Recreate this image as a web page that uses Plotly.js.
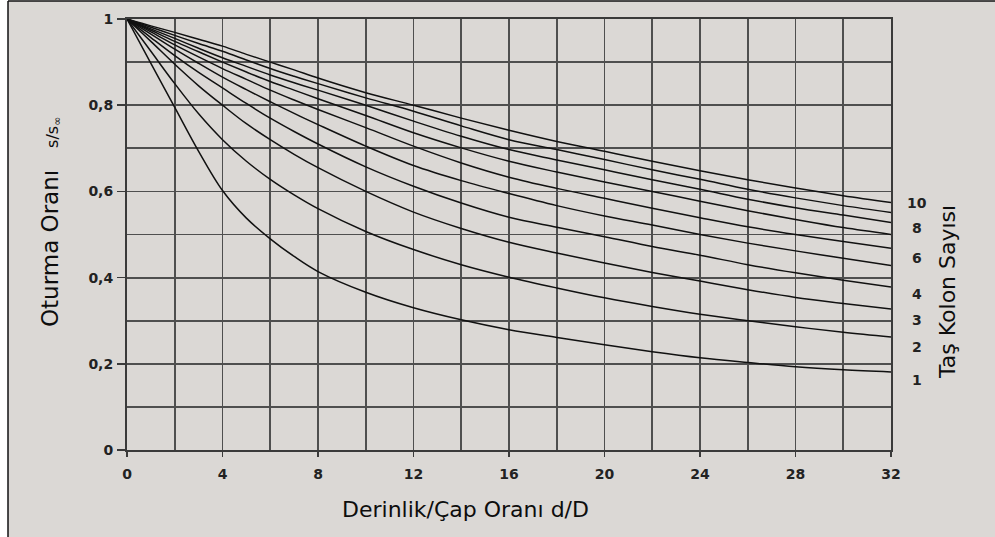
<!DOCTYPE html>
<html>
<head>
<meta charset="utf-8">
<script src="https://cdn.plot.ly/plotly-3.0.1.min.js"></script>
<style>html,body{margin:0;padding:0;background:#fff;}#chart{width:995px;height:537px;}</style>
</head>
<body>
<div id="chart"></div>
<script>
// Derinlik/Çap Oranı d/D
const dD = [0,1,2,3,4,5,6,7,8,10,12,14,16,18,20,22,24,26,28,30,32];
// Oturma Oranı s/s∞ for each Taş Kolon Sayısı (stone column count)
const n1  = [1,0.897,0.795,0.693,0.602,0.538,0.49,0.449,0.414,0.366,0.330,0.302,0.279,0.261,0.244,0.228,0.214,0.203,0.193,0.186,0.181];
const n2  = [1,0.925,0.85,0.78,0.72,0.67,0.628,0.592,0.56,0.507,0.465,0.43,0.401,0.376,0.353,0.333,0.315,0.300,0.286,0.273,0.262];
const n3  = [1,0.948,0.895,0.845,0.80,0.757,0.72,0.686,0.655,0.60,0.552,0.514,0.482,0.457,0.434,0.412,0.392,0.372,0.354,0.340,0.327];
const n4  = [1,0.957,0.915,0.876,0.84,0.804,0.77,0.739,0.71,0.657,0.612,0.573,0.540,0.517,0.495,0.472,0.452,0.430,0.411,0.394,0.378];
const n5  = [1,0.965,0.93,0.897,0.865,0.836,0.808,0.781,0.755,0.705,0.660,0.625,0.595,0.567,0.543,0.522,0.500,0.480,0.462,0.445,0.428];
const n6  = [1,0.97,0.94,0.912,0.885,0.86,0.835,0.812,0.79,0.748,0.705,0.666,0.633,0.607,0.584,0.561,0.539,0.518,0.500,0.484,0.468];
const n7  = [1,0.974,0.948,0.924,0.90,0.877,0.855,0.835,0.815,0.776,0.736,0.701,0.670,0.645,0.622,0.600,0.577,0.555,0.535,0.516,0.500];
const n8  = [1,0.977,0.955,0.932,0.91,0.89,0.87,0.852,0.835,0.80,0.763,0.728,0.697,0.673,0.650,0.627,0.605,0.582,0.562,0.545,0.528];
const n9  = [1,0.981,0.962,0.943,0.925,0.905,0.885,0.867,0.85,0.817,0.786,0.752,0.72,0.697,0.674,0.650,0.628,0.605,0.585,0.567,0.551];
const n10 = [1,0.984,0.969,0.953,0.937,0.918,0.90,0.882,0.863,0.829,0.80,0.77,0.742,0.716,0.693,0.670,0.648,0.627,0.608,0.590,0.574];
const seriesList = [n1,n2,n3,n4,n5,n6,n7,n8,n9,n10];
const seriesNames = ['1','2','3','4','5','6','7','8','9','10'];

const xTickVals = [0,4,8,12,16,20,24,28,32];
const xTickText = ['0','4','8','12','16','20','24','28','32'];
const yTickVals = [0,0.2,0.4,0.6,0.8,1];
const yTickText = ['0','0,2','0,4','0,6','0,8','1'];

// right-side curve labels
const rightLabels = ['10','8','6','4','3','2','1'];
const rightLabelY = [203,228,258,294,320,347,380]; // pixel rows (layout)

const W = 995, H = 537, L = 127, R = 104, T = 19, B = 87;
const pw = W - L - R, ph = H - T - B;
const px = p => (p - L) / pw;
const py = p => (H - B - p) / ph;

const traces = seriesList.map((ys, i) => ({
  x: dD, y: ys, type: 'scatter', mode: 'lines', name: seriesNames[i],
  line: {color: '#111', width: 1.5, shape: 'spline', smoothing: 1},
  hoverinfo: 'skip', showlegend: false
}));

const gridC = '#4f4f4f';
const tickFont = {family: 'DejaVu Sans, sans-serif', size: 14, color: '#222', weight: 'bold'};
const titleFont = {family: 'DejaVu Sans, sans-serif', size: 22, color: '#0d0d0d'};

const annotations = rightLabels.map((t, i) => ({
  xref: 'paper', yref: 'paper', x: px(917), y: py(rightLabelY[i]),
  text: t, showarrow: false, xanchor: 'center', yanchor: 'middle', font: tickFont
}));
annotations.push({
  xref: 'paper', yref: 'paper', x: px(465), y: py(509), text: 'Derinlik/Çap Oranı d/D',
  showarrow: false, xanchor: 'center', yanchor: 'middle', font: titleFont
});
annotations.push({
  xref: 'paper', yref: 'paper', x: px(51), y: py(222),
  text: 'Oturma Oranı   <span style="font-size:16px">s/s<sub>∞</sub></span>',
  textangle: -90, showarrow: false, xanchor: 'center', yanchor: 'middle',
  font: {family: 'DejaVu Sans, sans-serif', size: 23, color: '#0d0d0d'}
});
annotations.push({
  xref: 'paper', yref: 'paper', x: px(948), y: py(292), text: 'Taş Kolon Sayısı',
  textangle: -90, showarrow: false, xanchor: 'center', yanchor: 'middle', font: titleFont
});

const layout = {
  width: W, height: H,
  margin: {l: L, r: R, t: T, b: B, pad: 0},
  paper_bgcolor: '#ffffff', plot_bgcolor: '#ffffff',
  showlegend: false,
  xaxis: {
    range: [0, 32], tickvals: xTickVals, ticktext: xTickText,
    showgrid: true, gridcolor: gridC, gridwidth: 1.8,
    minor: {dtick: 2, tick0: 0, showgrid: true, gridcolor: gridC, gridwidth: 1.8, ticks: ''},
    showline: true, linecolor: '#3a3a3a', linewidth: 2, mirror: true,
    ticks: 'outside', ticklen: 5, tickwidth: 1.5, tickcolor: '#3a3a3a',
    ticklabelstandoff: 5,
    zeroline: false, tickfont: tickFont, fixedrange: true
  },
  yaxis: {
    range: [0, 1], tickvals: yTickVals, ticktext: yTickText,
    showgrid: true, gridcolor: gridC, gridwidth: 1.8,
    minor: {dtick: 0.1, tick0: 0, showgrid: true, gridcolor: gridC, gridwidth: 1.8, ticks: ''},
    showline: true, linecolor: '#3a3a3a', linewidth: 2, mirror: true,
    ticks: 'outside', ticklen: 8, tickwidth: 1.5, tickcolor: '#3a3a3a',
    ticklabelstandoff: 1,
    zeroline: false, tickfont: tickFont, fixedrange: true
  },
  shapes: [
    {type: 'rect', xref: 'paper', yref: 'paper', layer: 'below',
     x0: px(8), x1: px(1000), y0: py(545), y1: py(1),
     fillcolor: '#dbd8d5', line: {width: 0}},
    {type: 'line', xref: 'paper', yref: 'paper', layer: 'below',
     x0: px(8), x1: px(8), y0: py(545), y1: py(1), line: {color: '#111', width: 1.5}},
    {type: 'line', xref: 'paper', yref: 'paper', layer: 'below',
     x0: px(8), x1: px(1000), y0: py(1), y1: py(1), line: {color: '#111', width: 1.5}}
  ],
  annotations: annotations
};

Plotly.newPlot('chart', traces, layout, {staticPlot: true, displayModeBar: false});
</script>
</body>
</html>
